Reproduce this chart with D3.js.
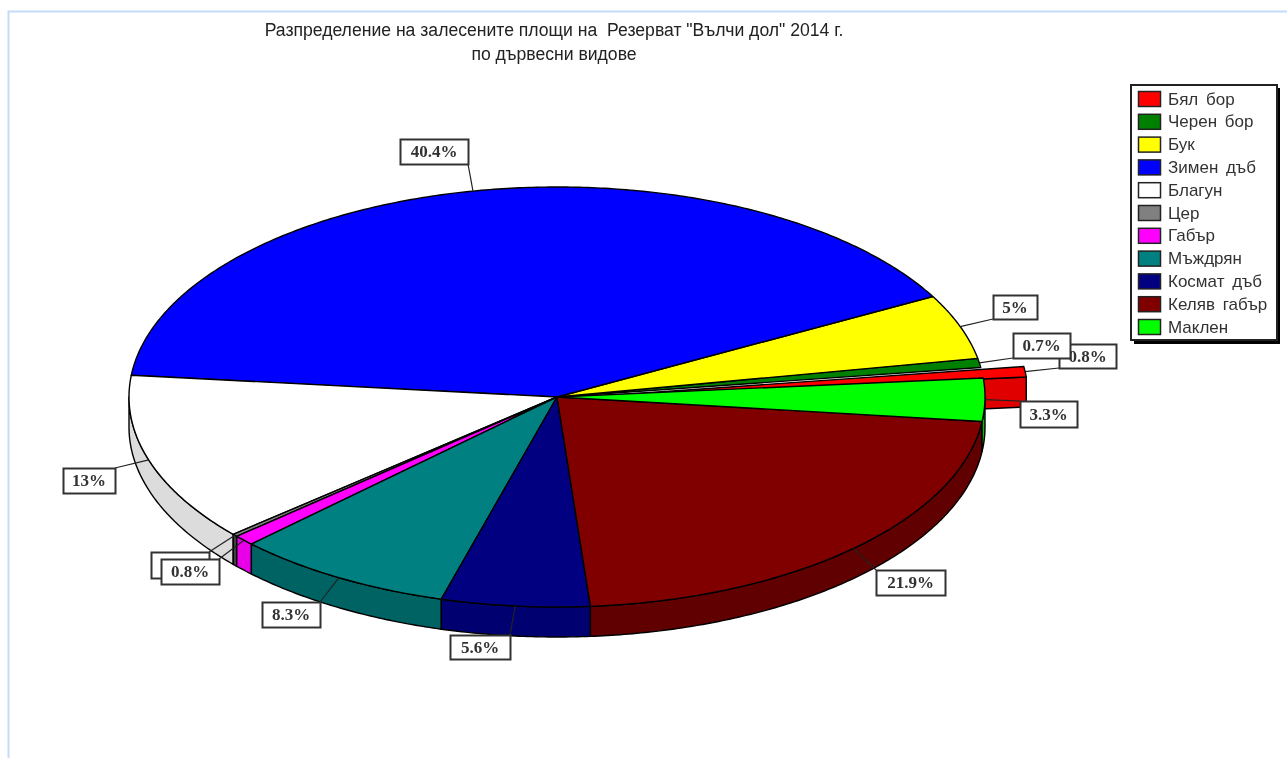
<!DOCTYPE html>
<html>
<head>
<meta charset="utf-8">
<script src="https://cdn.jsdelivr.net/npm/d3@7"></script>
<style>
  html, body { margin: 0; padding: 0; background: #fff; }
  svg { display: block; }
</style>
</head>
<body>
<div id="chart"></div>
<script>
const species = ["Бял бор", "Черен бор", "Бук", "Зимен дъб", "Благун", "Цер", "Габър", "Мъждрян", "Космат дъб", "Келяв габър", "Маклен"];
const shares = [0.8, 0.7, 5, 40.4, 13, 0.2, 0.8, 8.3, 5.6, 21.9, 3.3];
const topColors = ["#ff0000", "#008000", "#ffff00", "#0000ff", "#ffffff", "#808080", "#ff00ff", "#008080", "#000080", "#800000", "#00ff00"];
const sideColors = ["#e00000", "#006000", "#d8d800", "#0000c0", "#dcdcdc", "#404040", "#e800e8", "#006464", "#000070", "#600000", "#00c000"];
const titleLines = ["Разпределение на залесените площи на  Резерват \"Вълчи дол\" 2014 г.", "по дървесни видове"];

const W = 1287, H = 758;
const cx = 557, cy = 397, rx = 428, ry = 210, depth = 30;
const startDeg = 5.2;          // where the first slice starts, counted upward from 3 o'clock
const explode = {dx: 43, dy: -1};  // Бял бор is pulled out

// label boxes, one per slice, same order as species
const boxes = [
  [1059, 344, 57, 24], [1013, 333, 57, 25], [993, 295, 44, 24], [400, 139, 68, 25],
  [63, 468, 52, 25], [151, 552, 58, 26], [161, 559, 58, 25], [262, 602, 58, 25],
  [450, 635, 60, 24], [876, 570, 69, 25], [1020, 401, 57, 26]
];
const hiddenLabel = 5;  // the box of Цер sits behind the one of Габър, its text cannot be seen

// the reference is a soft, upscaled screenshot
const svg = d3.select("#chart").append("svg").attr("width", W).attr("height", H);
svg.append("defs").append("filter").attr("id", "soft")
  .attr("x", 0).attr("y", 0).attr("width", 1).attr("height", 1)
  .append("feGaussianBlur").attr("stdDeviation", 0.55);
const root = svg.append("g").attr("filter", "url(#soft)");
root.append("rect").attr("width", W).attr("height", H).attr("fill", "#fff");

const x = d3.scaleLinear().domain([-1, 1]).range([cx - rx, cx + rx]);
const y = d3.scaleLinear().domain([-1, 1]).range([cy + ry, cy - ry]);

// frame of the page
root.append("path")
  .attr("d", `M8.5,${H}V11.5H${W}`)
  .attr("fill", "none").attr("stroke", "#c6dbf7").attr("stroke-width", 2);

// title
root.selectAll(".title").data(titleLines).enter().append("text")
  .attr("x", 554)
  .attr("y", (d, i) => 36 + i * 24)
  .attr("text-anchor", "middle")
  .style("white-space", "pre")
  .style("font-family", "'Liberation Sans', Arial, sans-serif")
  .style("font-size", "17.6px")
  .attr("fill", "#222")
  .text(d => d);

// slices: d3.pie angles run clockwise from 12 o'clock, here they go anticlockwise
const startAngle = (90 - startDeg) * Math.PI / 180;
const pie = d3.pie().sort(null).value(d => d)
  .startAngle(startAngle)
  .endAngle(startAngle - 2 * Math.PI);
const arcs = pie(shares);

const rimPoint = (a, dx = 0, dy = 0) => [x(Math.sin(a)) + dx, y(Math.cos(a)) + dy];
const rim = (a0, a1, dx = 0, dy = 0) => {
  const n = Math.max(2, Math.ceil(Math.abs(a1 - a0) / 0.01));
  return d3.range(n + 1).map(i => rimPoint(a0 + (a1 - a0) * i / n, dx, dy));
};
const line = d3.line();
const sliceOffset = i => i === 0 ? explode : {dx: 0, dy: 0};

const pieG = root.append("g").attr("stroke", "#000").attr("stroke-width", 1.4).attr("stroke-linejoin", "round");

// wall of the pulled-out slice goes first, the rest of the pie covers it
{
  const o = sliceOffset(0);
  const a = arcs[0].startAngle;
  const t = [cx + o.dx, cy + o.dy];
  const e = rimPoint(a, o.dx, o.dy);
  pieG.append("path")
    .attr("d", line([t, e, [e[0], e[1] + depth], [t[0], t[1] + depth]]) + "Z")
    .attr("fill", sideColors[0]);
}
pieG.append("path")
  .attr("d", () => {
    const o = sliceOffset(0);
    return line([[cx + o.dx, cy + o.dy], ...rim(arcs[0].startAngle, arcs[0].endAngle, o.dx, o.dy)]) + "Z";
  })
  .attr("fill", topColors[0]);

// side walls, only the part of each rim that faces the viewer
arcs.forEach((d, i) => {
  if (i === 0) return;
  // the front half is between 90 and 270 degrees clockwise from the top
  const frontA = Math.PI / 2, frontB = 3 * Math.PI / 2;
  for (const k of [0, -2 * Math.PI]) {
    const a0 = Math.min(d.startAngle - k, frontB), a1 = Math.max(d.endAngle - k, frontA);
    if (a0 <= a1) continue;
    const upper = rim(a0, a1);
    const lower = upper.map(p => [p[0], p[1] + depth]).reverse();
    pieG.append("path").attr("d", line([...upper, ...lower]) + "Z").attr("fill", sideColors[i]);
  }
});

// top faces
arcs.forEach((d, i) => {
  if (i === 0) return;
  pieG.append("path")
    .attr("d", line([[cx, cy], ...rim(d.startAngle, d.endAngle)]) + "Z")
    .attr("fill", topColors[i]);
});

// leaders and value labels
const boxAnchor = (p, b) => [Math.max(b[0], Math.min(b[0] + b[2], p[0])), Math.max(b[1], Math.min(b[1] + b[3], p[1]))];
const labelG = root.append("g");
arcs.forEach((d, i) => {
  const o = sliceOffset(i);
  const p = rimPoint((d.startAngle + d.endAngle) / 2, o.dx, o.dy);
  labelG.append("path")
    .attr("d", line([p, boxAnchor(p, boxes[i])]))
    .attr("fill", "none").attr("stroke", "#222").attr("stroke-width", 1.2);
});
labelG.selectAll(".val").data(d3.range(species.length)).enter().append("g")
  .attr("class", "val")
  .each(function(i) {
    const b = boxes[i], g = d3.select(this);
    g.append("rect")
      .attr("x", b[0] + 0.5).attr("y", b[1] + 0.5)
      .attr("width", b[2]).attr("height", b[3])
      .attr("fill", "#fff").attr("stroke", "#333").attr("stroke-width", 2);
    if (i === hiddenLabel) return;
    g.append("text")
      .attr("x", b[0] + b[2] / 2).attr("y", b[1] + b[3] / 2 + 5.5)
      .attr("text-anchor", "middle")
      .style("font-family", "'Liberation Serif', 'Times New Roman', serif")
      .style("font-weight", "bold")
      .style("font-size", "17px")
      .attr("fill", "#333")
      .text(shares[i] + "%");
  });

// legend
const legendY = d3.scalePoint().domain(species).range([99, 327]);
const legend = root.append("g");
legend.append("rect").attr("x", 1134).attr("y", 88).attr("width", 146).attr("height", 256).attr("fill", "#000");
legend.append("rect").attr("x", 1131).attr("y", 85).attr("width", 146).attr("height", 255)
  .attr("fill", "#fff").attr("stroke", "#222").attr("stroke-width", 2);
species.forEach((s, i) => {
  legend.append("rect")
    .attr("x", 1138.5).attr("y", legendY(s) - 7.5)
    .attr("width", 22).attr("height", 15)
    .attr("fill", topColors[i]).attr("stroke", "#222").attr("stroke-width", 1.5);
  legend.append("text")
    .attr("x", 1168).attr("y", legendY(s) + 5.5)
    .style("font-family", "'Liberation Sans', Arial, sans-serif")
    .style("font-size", "17px")
    .style("word-spacing", "3px")
    .attr("fill", "#333")
    .text(s);
});
</script>
</body>
</html>
